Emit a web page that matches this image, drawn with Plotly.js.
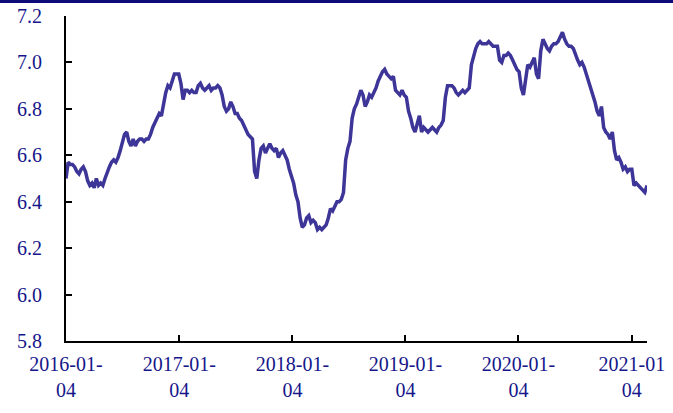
<!DOCTYPE html>
<html>
<head>
<meta charset="utf-8">
<script src="https://cdn.plot.ly/plotly-3.0.1.min.js"></script>
<style>
  html, body { margin: 0; padding: 0; background: #fff; }
  #chart { width: 673px; height: 413px; }
</style>
</head>
<body>
<div id="chart"></div>
<script>
// Weekly USD/CNY readings (one value per week, weeks start Monday 2016-01-04)
const startDate = '2016-01-04';
const values2016 = [
  6.50, 6.57, 6.56, 6.56,
  6.55, 6.53, 6.52, 6.54, 6.55,
  6.53, 6.49, 6.47, 6.48,
  6.46, 6.50, 6.47, 6.48,
  6.47, 6.50, 6.53, 6.55, 6.57,
  6.58, 6.57, 6.59, 6.62,
  6.65, 6.69, 6.70, 6.66,
  6.64, 6.67, 6.64, 6.66, 6.67,
  6.67, 6.66, 6.67, 6.67,
  6.69, 6.72, 6.74, 6.76, 6.78,
  6.77, 6.83, 6.87, 6.90,
  6.89, 6.92, 6.95, 6.95
];
const values2017 = [
  6.95, 6.91, 6.84, 6.88, 6.88,
  6.87, 6.88, 6.87, 6.87,
  6.90, 6.91, 6.89, 6.88,
  6.89, 6.90, 6.88, 6.89,
  6.89, 6.90, 6.89, 6.86, 6.81,
  6.79, 6.80, 6.83, 6.81,
  6.78, 6.78, 6.76, 6.75, 6.73,
  6.71, 6.69, 6.68, 6.67,
  6.53, 6.50, 6.58, 6.63,
  6.64, 6.61, 6.63, 6.65, 6.63,
  6.62, 6.63, 6.59, 6.61,
  6.62, 6.60, 6.58, 6.54
];
const values2018 = [
  6.51, 6.48, 6.43, 6.40, 6.33,
  6.29, 6.30, 6.33, 6.34,
  6.31, 6.32, 6.31, 6.28,
  6.29, 6.28, 6.29, 6.30, 6.33,
  6.37, 6.36, 6.38, 6.40,
  6.40, 6.41, 6.44, 6.58,
  6.63, 6.66, 6.76, 6.80, 6.82,
  6.85, 6.88, 6.86, 6.81,
  6.83, 6.86, 6.85, 6.87,
  6.89, 6.92, 6.94, 6.96, 6.97,
  6.95, 6.94, 6.93, 6.94,
  6.88, 6.87, 6.86, 6.88, 6.86
];
const values2019 = [
  6.85, 6.79, 6.76, 6.72,
  6.70, 6.74, 6.77, 6.70,
  6.72, 6.71, 6.70, 6.71,
  6.72, 6.71, 6.70, 6.72, 6.73,
  6.75, 6.85, 6.90, 6.90,
  6.90, 6.89, 6.87, 6.86,
  6.87, 6.88, 6.87, 6.88, 6.89,
  6.99, 7.03, 7.06, 7.08,
  7.09, 7.08, 7.08, 7.08, 7.09,
  7.08, 7.07, 7.07, 7.07,
  7.01, 7.00, 7.03, 7.03,
  7.04, 7.03, 7.01, 6.99, 6.97
];
const values2020 = [
  6.96, 6.89, 6.86, 6.93,
  6.99, 6.98, 7.00, 7.02,
  6.95, 6.93, 7.05, 7.10, 7.08,
  7.06, 7.05, 7.07, 7.08,
  7.08, 7.09, 7.11, 7.13,
  7.10, 7.08, 7.07, 7.07, 7.06,
  7.03, 7.01, 6.99, 7.00,
  6.98, 6.95, 6.93, 6.90, 6.86,
  6.83, 6.79, 6.77, 6.81,
  6.72, 6.70, 6.69, 6.67,
  6.70, 6.62, 6.58, 6.59, 6.57,
  6.54, 6.55, 6.53, 6.54
];
const values2021 = [
  6.54, 6.47, 6.48, 6.47,
  6.46, 6.45, 6.44, 6.47
];
const tickDates = ['2016-01-04', '2017-01-04', '2018-01-04', '2019-01-04', '2020-01-04', '2021-01-04'];
const tickLabels = ['2016-01-<br>04', '2017-01-<br>04', '2018-01-<br>04', '2019-01-<br>04', '2020-01-<br>04', '2021-01<br>04'];

const values = [].concat(values2016, values2017, values2018, values2019, values2020, values2021);
const t0 = new Date(startDate + 'T00:00:00Z').getTime();
const dates = values.map((_, i) => new Date(t0 + i * 7 * 86400000).toISOString().slice(0, 10));

const labelFont = { family: '"Liberation Serif", "Times New Roman", serif', size: 20, color: '#16168a' };

const trace = {
  x: dates, y: values, type: 'scatter', mode: 'lines',
  line: { color: '#3d3597', width: 3.5 },
  hoverinfo: 'skip'
};

const layout = {
  width: 673, height: 413,
  margin: { l: 66, r: 26, t: 16, b: 72 },
  paper_bgcolor: '#fff', plot_bgcolor: '#fff',
  showlegend: false,
  xaxis: {
    type: 'date',
    range: [dates[0], dates[dates.length - 1]],
    tickmode: 'array', tickvals: tickDates, ticktext: tickLabels,
    ticks: 'inside', ticklen: 6, tickwidth: 2, tickcolor: '#000',
    showline: true, linecolor: '#000', linewidth: 2,
    showgrid: false, zeroline: false,
    tickfont: labelFont, tickangle: 0,
    ticklabelstandoff: 4
  },
  yaxis: {
    range: [5.8, 7.2], dtick: 0.2, tick0: 5.8, tickformat: '.1f',
    ticks: 'inside', ticklen: 6, tickwidth: 2, tickcolor: '#000',
    showline: true, linecolor: '#000', linewidth: 2,
    showgrid: false, zeroline: false,
    tickfont: labelFont,
    ticklabelstandoff: 18
  },
  shapes: [{
    type: 'line', xref: 'paper', yref: 'paper',
    x0: -0.12, x1: 1.06, y0: 1.045, y1: 1.045,
    line: { color: '#0e0b78', width: 3 }
  }]
};

Plotly.newPlot('chart', [trace], layout, { staticPlot: true, displayModeBar: false });
</script>
</body>
</html>
